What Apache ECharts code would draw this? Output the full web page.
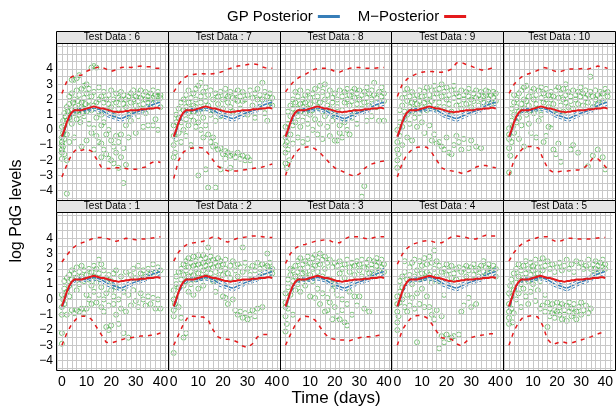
<!DOCTYPE html>
<html><head><meta charset="utf-8">
<script src="https://cdn.jsdelivr.net/npm/echarts@6/dist/echarts.min.js"></script>
<style>html,body{margin:0;padding:0;background:#fff}#c{width:616px;height:408px}</style>
</head><body><div id="c"></div>
<script>
const days = [0,1,2,3,4,5,6,7,8,9,10,11,12,13,14,15,16,17,18,19,20,21,22,23,24,25,26,27,28,29,30,31,32,33,34,35,36,37,38,39,40];
const bandDays = [0,2,4,6,8,10,12,14,16,18,20,22,24,26,28,30,32,34,36,38,40];
const xTicks = [0,10,20,30,40];
const yTicks = [-4,-3,-2,-1,0,1,2,3,4];

const redMean = [-0.45,0.0,0.5,0.9,1.15,1.3,1.3,1.3,1.3,1.35,1.4,1.45,1.5,1.55,1.5,1.45,1.4,1.4,1.35,1.3,1.25,1.2,1.2,1.15,1.2,1.2,1.25,1.25,1.3,1.3,1.3,1.3,1.35,1.35,1.35,1.4,1.4,1.4,1.45,1.45,1.4];
const blueMean = [-0.55,-0.05,0.45,0.9,1.1,1.25,1.3,1.3,1.3,1.3,1.3,1.35,1.4,1.45,1.4,1.35,1.3,1.2,1.1,1.0,0.95,0.9,0.85,0.78,0.75,0.8,0.88,0.95,1.02,1.1,1.15,1.2,1.25,1.3,1.4,1.5,1.6,1.67,1.72,1.78,1.82];
const blueUpper = [-0.45,0.55,1.2,1.4,1.4,1.42,1.52,1.55,1.45,1.3,1.12,1.02,0.95,1.05,1.2,1.3,1.4,1.6,1.8,1.92,2.02];
const blueLower = [-0.65,0.35,1.0,1.2,1.2,1.18,1.28,1.25,1.15,0.9,0.78,0.68,0.55,0.7,0.85,1.0,1.1,1.2,1.4,1.52,1.62];

const redUp6 = [2.4,3.2,3.5,3.6,3.6,3.85,4.0,4.1,4.15,4.0,3.85,3.95,4.1,4.15,4.1,4.15,4.2,4.15,4.15,4.05,4.05];
const redLo6 = [-3.1,-2.3,-1.6,-1.25,-1.35,-1.25,-1.4,-1.9,-2.45,-2.55,-2.55,-2.5,-2.5,-2.55,-2.6,-2.6,-2.5,-2.45,-2.2,-2.05,-2.15];
const redUp7 = [2.5,3.0,3.4,3.6,3.65,3.7,3.7,3.65,3.7,3.75,3.85,4.0,4.1,4.2,4.25,4.3,4.35,4.3,4.15,4.05,4.05];
const redLo7 = [-3.2,-2.0,-1.45,-1.25,-1.2,-1.15,-1.2,-1.55,-2.0,-2.4,-2.6,-2.7,-2.7,-2.7,-2.65,-2.6,-2.55,-2.5,-2.45,-2.35,-2.25];
const redUp8 = [2.5,2.95,3.3,3.5,3.65,3.85,4.0,4.05,4.05,4.0,3.85,3.8,3.95,4.05,4.1,4.1,4.05,4.05,4.05,4.1,4.1];
const redLo8 = [-3.0,-2.1,-1.5,-1.2,-1.15,-1.1,-1.25,-1.5,-1.85,-2.2,-2.5,-2.65,-2.8,-2.95,-3.05,-2.9,-2.55,-2.3,-2.2,-2.1,-2.05];
const redUp9 = [2.2,3.0,3.35,3.55,3.7,3.8,3.85,3.85,3.8,3.8,3.85,4.0,4.4,4.45,4.3,4.2,4.05,3.95,3.95,4.05,4.1];
const redLo9 = [-3.1,-2.2,-1.6,-1.3,-1.15,-1.1,-1.15,-1.5,-2.0,-2.5,-2.65,-2.7,-2.75,-2.85,-2.8,-2.65,-2.45,-2.35,-2.35,-2.45,-2.5];
const redUp10 = [2.4,3.0,3.35,3.6,3.7,3.8,3.95,4.1,4.05,3.9,3.8,3.9,4.0,4.0,4.0,4.05,4.0,4.1,4.2,4.15,4.05];
const redLo10 = [-3.0,-2.0,-1.5,-1.15,-1.1,-1.1,-1.2,-2.0,-2.6,-2.8,-2.75,-2.7,-2.7,-2.65,-2.65,-2.55,-2.3,-1.85,-1.9,-2.2,-2.6];
const redUp1 = [2.45,2.9,3.3,3.55,3.7,3.8,3.95,4.05,4.05,4.0,3.9,3.8,3.9,4.0,3.95,3.9,3.95,3.95,4.0,4.05,4.1];
const redLo1 = [-3.0,-2.2,-1.6,-1.25,-1.1,-1.1,-1.3,-1.8,-2.3,-2.8,-2.85,-2.75,-2.65,-2.55,-2.5,-2.45,-2.4,-2.4,-2.35,-2.3,-2.2];
const redUp2 = [2.5,3.1,3.45,3.65,3.7,3.75,3.8,3.95,4.1,4.05,3.85,3.75,3.9,4.0,4.05,4.1,4.15,4.15,4.1,4.05,4.05];
const redLo2 = [-3.0,-2.3,-1.6,-1.1,-1.1,-1.15,-1.15,-1.35,-2.0,-2.45,-2.6,-2.6,-2.65,-2.8,-3.05,-3.15,-2.9,-2.45,-2.3,-2.3,-2.3];
const redUp3 = [2.35,3.0,3.35,3.55,3.6,3.7,3.8,3.85,3.9,3.85,3.7,3.7,3.95,4.1,4.1,4.1,4.0,3.95,4.05,4.1,4.1];
const redLo3 = [-3.0,-2.3,-1.65,-1.25,-1.1,-1.15,-1.35,-1.8,-2.25,-2.55,-2.6,-2.65,-2.65,-2.7,-2.6,-2.5,-2.45,-2.45,-2.4,-2.35,-2.35];
const redUp4 = [2.3,2.95,3.35,3.6,3.7,3.8,3.85,3.8,3.7,3.7,3.9,4.1,4.15,4.1,4.05,3.95,3.95,4.1,4.2,4.15,4.15];
const redLo4 = [-3.0,-2.0,-1.5,-1.15,-1.05,-1.05,-1.2,-1.6,-2.1,-2.5,-2.55,-2.6,-2.9,-3.05,-2.75,-2.5,-2.4,-2.35,-2.3,-2.25,-2.25];
const redUp5 = [2.5,3.05,3.45,3.7,3.85,3.95,4.05,4.1,4.1,3.9,3.75,3.85,4.0,4.0,3.95,3.95,3.95,3.95,4.0,4.05,4.05];
const redLo5 = [-3.0,-2.1,-1.5,-1.15,-1.1,-1.05,-1.15,-1.7,-2.6,-2.95,-2.85,-2.75,-2.85,-2.85,-2.75,-2.65,-2.55,-2.45,-2.3,-2.2,-2.15];

const pts6 = [[0,-0.5],[0,-0.8],[0,-1.0],[0,-1.3],[0,-1.5],[0,-1.9],[0,0.2],[0.5,-0.2],[0.5,-1.1],[0.5,0.6],[1,-0.6],[1,0.3],[1,-1.6],[1,1.1],[1.5,0.9],[2,-4.2],[2,0.6],[2,1.5],[2,-0.3],[2,-2.0],[2.5,1.2],[3,1.7],[3,0.8],[3,2.2],[3,-0.8],[3.5,1.0],[4,1.3],[4,2.4],[4,3.3],[4,0.4],[4.5,1.8],[5,3.3],[5,1.1],[5,2.0],[5,-0.5],[5.5,1.5],[6,3.4],[6,1.2],[6,2.6],[6,0.7],[6.5,1.9],[7,1.3],[7,1.0],[7,2.3],[7,3.6],[7.5,0.5],[8,1.5],[8,2.7],[8,1.8],[8,-1.1],[8.5,1.1],[9,2.1],[9,1.4],[9,0.9],[9,2.9],[9.5,1.7],[10,2.4],[10,1.2],[10,-0.7],[10,3.0],[11,1.9],[11,1.5],[11,0.4],[11,2.7],[12,4.1],[12,2.2],[12,1.3],[12,-0.2],[13,4.2],[13,1.6],[13,2.5],[13,0.1],[13,-1.3],[14,4.1],[14,1.8],[14,-0.4],[14,0.8],[15,2.0],[15,-0.8],[15,1.2],[15,2.8],[16,-0.9],[16,0.3],[16,2.2],[16,1.0],[16,-1.8],[17,-1.3],[17,1.8],[17,0.5],[17,2.5],[18,-1.6],[18,-0.3],[18,2.0],[18,1.3],[19,-1.9],[19,0.0],[19,1.7],[19,2.3],[20,-2.0],[20,-0.7],[20,1.5],[20,2.6],[21,-1.1],[21,2.0],[21,1.0],[21,-2.2],[22,-0.4],[22,1.8],[22,2.4],[22,-1.5],[23,-0.8],[23,2.1],[23,-2.5],[23,1.4],[24,-0.3],[24,2.0],[24,-1.8],[24,2.5],[25,-3.5],[25,-1.2],[25,1.7],[25,2.3],[26,0.3],[26,2.0],[26,-2.3],[26,1.5],[27,2.2],[27,-0.5],[27,1.0],[28,2.4],[28,1.8],[28,0.6],[29,2.0],[29,2.6],[29,1.3],[30,2.2],[30,1.6],[30,-0.2],[31,2.4],[31,1.9],[31,0.9],[32,2.1],[32,2.6],[32,1.4],[33,2.3],[33,1.7],[33,0.2],[34,2.0],[34,2.5],[34,1.1],[35,2.2],[35,1.8],[35,0.3],[36,2.4],[36,1.5],[36,2.0],[37,2.1],[37,2.6],[37,0.3],[38,2.3],[38,1.9],[38,0.7],[39,2.2],[39,2.5],[39,0.0],[40,2.1],[40,2.3],[40,1.5]];
const pts7 = [[0,-1.0],[0,-1.8],[0,-0.4],[0,0.3],[0.5,-1.5],[1,0.5],[1,-0.6],[1,1.0],[2,1.4],[2,-0.2],[2,0.8],[3,1.8],[3,0.5],[3,-0.8],[4,1.3],[4,2.0],[4,0.0],[5,1.5],[5,0.7],[5,2.3],[5,-0.4],[6,1.1],[6,1.8],[6,0.3],[6,2.6],[7,1.4],[7,0.9],[7,2.1],[7,-1.0],[8,1.6],[8,0.6],[8,2.4],[8,1.2],[9,2.0],[9,0.2],[9,1.5],[9,2.7],[10,2.9],[10,1.1],[10,-3.0],[10,0.5],[11,1.8],[11,2.2],[11,0.0],[11,3.1],[12,1.4],[12,2.5],[12,-0.5],[12,0.8],[13,1.9],[13,2.8],[13,-2.6],[13,0.3],[14,1.6],[14,-0.3],[14,2.3],[14,-3.8],[15,1.0],[15,-0.8],[15,2.6],[16,2.0],[16,-0.5],[16,1.3],[16,-1.1],[17,2.4],[17,-1.0],[17,0.6],[17,-3.8],[18,2.2],[18,-1.3],[18,1.7],[19,2.5],[19,-1.2],[19,-2.6],[19,0.9],[20,2.0],[20,-1.6],[20,1.4],[21,2.3],[21,-1.9],[21,-1.4],[21,2.7],[22,1.8],[22,-1.5],[22,2.2],[23,-1.7],[23,2.5],[23,-2.5],[23,1.5],[24,2.1],[24,-1.6],[24,1.2],[25,2.4],[25,-1.8],[25,2.0],[26,-1.5],[26,1.9],[26,2.6],[27,-1.9],[27,2.2],[27,1.4],[28,-1.7],[28,2.5],[28,1.9],[29,-2.0],[29,2.0],[30,-1.8],[30,2.3],[30,1.0],[31,2.6],[31,-2.0],[32,2.1],[32,1.6],[33,2.4],[33,0.8],[34,2.0],[34,2.7],[35,2.3],[35,1.5],[36,3.1],[36,2.0],[37,2.5],[37,1.1],[38,0.6],[38,2.2],[39,2.4],[39,1.8],[40,2.1],[40,1.6]];
const pts8 = [[0,-1.5],[0,-2.2],[0,-0.5],[0,-1.0],[0,0.2],[0.5,-2.5],[0.5,-0.8],[1,0.4],[1,-1.3],[1,1.2],[1.5,-2.0],[2,0.9],[2,-0.3],[2,1.6],[3,1.4],[3,0.3],[3,2.0],[3,-0.9],[4,1.1],[4,1.8],[4,2.5],[4,0.5],[5,-0.5],[5,1.4],[5,2.2],[5,0.9],[6,1.7],[6,2.6],[6,0.2],[6,1.2],[7,2.0],[7,1.5],[7,-0.8],[7,0.6],[8,2.3],[8,1.1],[8,1.8],[9,-0.6],[9,1.4],[9,2.5],[9,0.4],[10,2.1],[10,1.7],[10,1.0],[11,2.4],[11,1.3],[11,0.0],[12,2.7],[12,1.9],[12,0.7],[13,-0.3],[13,2.2],[13,1.5],[14,2.9],[14,1.8],[14,0.4],[15,2.5],[15,1.2],[15,-0.6],[16,3.0],[16,2.0],[16,0.9],[17,2.3],[17,1.6],[17,0.2],[18,2.6],[18,1.4],[18,-0.4],[19,2.1],[19,1.8],[19,0.6],[20,2.4],[20,1.0],[20,-0.7],[21,2.0],[21,-0.7],[21,1.5],[22,2.6],[22,0.3],[22,-0.2],[23,2.2],[23,1.3],[23,-0.5],[24,2.5],[24,1.8],[24,0.5],[25,2.0],[25,0.0],[25,2.7],[26,2.3],[26,1.6],[26,-0.3],[27,2.5],[27,1.9],[27,0.8],[28,2.1],[28,2.7],[28,1.2],[29,2.4],[29,1.7],[29,0.4],[30,2.6],[30,2.0],[31,2.3],[31,-4.4],[31,1.4],[32,-3.7],[32,2.5],[32,1.8],[33,2.1],[33,2.8],[33,0.6],[34,2.4],[34,1.6],[35,2.6],[35,2.0],[35,0.9],[36,3.1],[36,2.3],[37,2.1],[37,1.5],[38,2.5],[38,0.6],[39,2.2],[39,2.8],[40,2.4],[40,1.9],[40,0.6]];
const pts9 = [[0,-1.3],[0,-2.0],[0,-0.8],[0,-2.5],[0,0.0],[0.5,-1.6],[1,0.5],[1,-0.4],[1,1.3],[2,1.6],[2,0.2],[2,2.1],[2,-1.0],[3,1.2],[3,2.4],[3,0.7],[4,1.9],[4,1.0],[4,2.7],[4,-0.5],[5,1.5],[5,2.2],[5,0.4],[6,1.8],[6,1.2],[6,2.5],[6,-0.7],[7,2.0],[7,1.4],[7,0.8],[8,2.3],[8,1.7],[8,0.2],[9,1.9],[9,2.6],[9,1.1],[10,2.2],[10,1.5],[10,0.5],[11,2.5],[11,1.8],[11,-0.2],[12,2.0],[12,1.3],[12,2.8],[13,2.3],[13,0.3],[13,1.6],[14,-0.7],[14,2.6],[14,1.9],[15,2.9],[15,2.1],[15,-0.3],[16,2.4],[16,1.4],[16,-0.9],[17,-0.8],[17,2.7],[17,1.8],[18,2.2],[18,3.0],[18,-1.1],[19,-1.3],[19,2.5],[19,1.5],[20,2.0],[20,2.8],[20,-0.5],[21,-1.5],[21,2.3],[21,1.7],[22,-1.6],[22,2.6],[22,1.2],[23,-1.0],[23,2.1],[23,2.9],[24,2.4],[24,-0.4],[24,1.6],[25,-0.8],[25,2.2],[25,1.9],[26,2.6],[26,-1.3],[26,1.4],[27,2.3],[27,2.0],[27,-0.6],[28,2.5],[28,1.7],[29,-1.2],[29,2.2],[29,2.7],[30,2.0],[30,1.5],[30,-0.7],[31,2.4],[31,1.9],[32,2.6],[32,2.1],[32,-1.1],[33,2.3],[33,1.6],[34,-1.2],[34,2.5],[34,2.0],[35,2.2],[35,1.8],[36,2.6],[36,2.3],[37,2.0],[37,2.5],[38,2.3],[38,1.7],[39,2.5],[39,2.1],[40,2.4],[40,1.9]];
const pts10 = [[0,-0.6],[0,-1.2],[0,-2.8],[0,0.1],[0,-0.3],[0.5,-1.7],[1,0.6],[1,-0.8],[1,1.4],[1.5,0.2],[2,1.8],[2,1.0],[2,-0.2],[2,2.3],[3,1.5],[3,0.5],[3,2.0],[4,2.4],[4,1.2],[4,0.8],[4,-0.6],[5,1.7],[5,2.6],[5,0.3],[6,2.0],[6,1.4],[6,2.8],[6,-1.1],[7,2.9],[7,1.9],[7,1.0],[8,2.2],[8,1.6],[8,0.4],[9,-0.2],[9,2.5],[9,1.3],[10,2.0],[10,2.7],[10,1.1],[11,-0.5],[11,2.3],[11,1.7],[12,2.6],[12,1.4],[12,0.6],[13,2.1],[13,2.8],[13,1.0],[14,-0.8],[14,2.4],[14,1.8],[15,2.7],[15,2.0],[15,-0.4],[16,2.3],[16,1.5],[16,0.2],[17,2.5],[17,2.0],[17,0.1],[18,-1.3],[18,2.2],[18,1.7],[19,-1.6],[19,2.6],[19,1.3],[20,2.1],[20,2.8],[20,-0.9],[21,-2.1],[21,2.4],[21,1.6],[22,2.0],[22,2.7],[22,1.2],[23,3.0],[23,2.3],[23,1.8],[24,2.5],[24,1.5],[25,-1.3],[25,2.2],[25,1.9],[26,2.6],[26,1.4],[26,-1.0],[27,2.3],[27,2.0],[28,-1.5],[28,2.5],[28,1.7],[29,2.2],[29,2.8],[30,2.4],[30,1.6],[31,2.1],[31,2.6],[32,-2.4],[32,2.3],[32,1.8],[33,3.5],[33,2.5],[34,-1.7],[34,2.2],[34,1.5],[35,2.6],[35,2.0],[36,-1.3],[36,2.3],[36,1.7],[37,2.5],[37,2.1],[38,-1.8],[38,2.4],[38,1.9],[39,2.7],[39,-2.6],[40,2.2],[40,2.5]];
const pts1 = [[0,-0.5],[0,-1.0],[0,-2.2],[0,-2.9],[0,0.3],[0.5,0.0],[1,0.7],[1,-0.3],[1,1.2],[2,0.5],[2,1.4],[2,-1.0],[3,1.6],[3,0.9],[3,0.2],[4,1.3],[4,1.9],[4,-0.7],[5,1.1],[5,1.7],[5,-0.9],[6,2.1],[6,1.4],[6,0.6],[6,-0.7],[7,1.8],[7,1.0],[7,-0.8],[8,2.2],[8,1.5],[8,-0.6],[9,1.2],[9,1.9],[9,-0.9],[10,1.6],[10,0.3],[10,-0.6],[11,2.0],[11,1.3],[11,0.0],[12,1.8],[12,-0.3],[12,0.9],[13,1.5],[13,2.2],[13,0.5],[14,2.0],[14,-0.2],[14,1.1],[15,2.6],[15,0.3],[15,1.7],[16,2.3],[16,-0.5],[16,0.8],[17,1.9],[17,0.0],[17,-0.8],[18,1.4],[18,-1.8],[18,0.4],[19,-2.0],[19,-0.4],[19,1.6],[20,-1.7],[20,0.6],[20,1.2],[21,-0.3],[21,1.7],[21,0.2],[22,-1.0],[22,0.8],[22,1.9],[23,-1.6],[23,0.0],[24,1.5],[24,-0.6],[25,-2.2],[25,0.5],[26,1.8],[26,-0.8],[27,-2.5],[27,0.3],[28,1.6],[28,-0.4],[29,2.0],[29,0.6],[30,-0.1],[30,1.4],[31,2.2],[31,-0.5],[32,1.7],[32,0.4],[33,0.0],[33,1.9],[34,-0.4],[34,1.5],[35,0.2],[35,2.0],[36,-0.3],[36,1.7],[37,2.3],[37,0.1],[38,1.8],[38,-0.6],[39,2.1],[39,0.0],[40,-0.6],[40,1.9]];
const pts2 = [[0,-0.7],[0,-1.1],[0,-3.5],[0,0.0],[0,0.6],[0.5,-0.3],[1,1.0],[1,1.5],[1,0.3],[2,1.8],[2,0.8],[2,-0.5],[3,2.0],[3,1.3],[3,-1.2],[4,1.6],[4,2.3],[4,-2.5],[4,0.9],[5,-2.2],[5,1.9],[5,2.5],[5,1.2],[6,2.1],[6,1.5],[6,2.7],[6,0.5],[7,1.8],[7,2.4],[7,1.0],[8,2.2],[8,1.6],[8,2.8],[8,0.3],[9,2.0],[9,2.5],[9,1.3],[10,2.3],[10,1.7],[10,2.9],[10,0.7],[11,2.1],[11,2.6],[11,1.4],[12,2.4],[12,1.9],[12,2.9],[12,0.9],[13,2.2],[13,2.7],[13,1.5],[14,3.4],[14,2.0],[14,2.5],[15,2.3],[15,1.7],[15,2.8],[16,2.1],[16,2.6],[16,1.2],[17,2.4],[17,1.8],[17,0.5],[18,2.2],[18,2.7],[18,1.4],[19,1.9],[19,2.5],[20,2.3],[20,1.6],[20,0.2],[21,0.1],[21,2.0],[21,2.6],[22,1.7],[22,-0.3],[23,2.2],[23,1.4],[24,2.5],[24,0.0],[25,1.9],[25,-0.7],[26,2.3],[26,-1.0],[26,1.5],[27,-0.8],[27,2.1],[28,3.4],[28,-1.2],[28,1.8],[29,-0.9],[29,2.4],[30,-1.3],[30,2.0],[31,-1.0],[31,1.6],[32,2.2],[32,-0.7],[33,-1.1],[33,1.9],[34,2.4],[34,-0.6],[35,2.0],[35,1.5],[36,-0.5],[36,2.3],[37,1.8],[37,2.1],[38,3.0],[38,2.2],[39,1.9],[39,2.4],[40,2.0],[40,1.7]];
const pts3 = [[0,-0.5],[0,-1.1],[0,-2.1],[0,-0.2],[0,0.4],[0.5,-1.6],[1,0.8],[1,-0.6],[1,1.3],[2,1.6],[2,0.3],[2,2.0],[3,1.2],[3,1.9],[3,-1.0],[4,2.2],[4,1.5],[4,0.6],[5,1.8],[5,2.5],[5,1.0],[6,2.0],[6,1.4],[6,2.7],[6,0.5],[7,1.7],[7,2.3],[7,1.1],[8,2.5],[8,1.8],[8,0.9],[9,2.1],[9,2.8],[9,1.4],[10,2.4],[10,1.6],[10,0.2],[11,2.0],[11,2.7],[11,1.2],[12,2.9],[12,2.2],[12,0.1],[13,2.5],[13,1.8],[13,0.7],[14,3.0],[14,2.3],[14,-0.3],[15,2.6],[15,1.5],[15,0.4],[16,2.8],[16,2.0],[16,-0.8],[17,2.4],[17,-0.7],[17,0.1],[18,2.6],[18,1.3],[18,-0.2],[19,2.1],[19,-1.3],[19,0.6],[20,2.4],[20,-0.5],[20,1.0],[21,2.2],[21,-1.1],[21,0.3],[22,2.5],[22,-1.3],[22,1.7],[23,2.0],[23,-0.7],[23,0.0],[24,2.3],[24,-1.5],[24,1.4],[25,2.6],[25,-1.7],[25,-0.3],[26,2.1],[26,0.5],[26,1.8],[27,2.4],[27,-1.0],[28,2.2],[28,0.2],[28,1.6],[29,2.5],[29,-0.4],[30,0.2],[30,2.3],[30,1.9],[31,2.6],[31,1.5],[32,2.1],[32,-0.6],[33,2.4],[33,2.0],[34,-0.8],[34,2.6],[34,1.7],[35,2.3],[35,2.0],[36,2.5],[36,1.6],[37,2.2],[37,2.7],[38,2.4],[38,1.9],[39,2.6],[39,2.1],[40,2.3],[40,1.8]];
const pts4 = [[0,-0.3],[0,-0.8],[0,-1.5],[0,-2.0],[0,0.2],[0.5,-1.1],[1,0.5],[1,-0.2],[1,1.2],[2,1.5],[2,0.0],[2,0.8],[3,1.8],[3,-0.5],[3,2.5],[4,1.3],[4,0.3],[4,-0.8],[5,2.1],[5,1.6],[5,-0.4],[6,2.4],[6,1.0],[6,0.1],[7,2.6],[7,1.5],[7,-0.6],[8,1.9],[8,-2.8],[8,0.4],[9,2.5],[9,1.3],[9,-0.3],[10,2.2],[10,1.7],[10,0.7],[11,2.7],[11,1.4],[11,-0.5],[12,2.3],[12,1.8],[12,0.2],[13,2.8],[13,1.6],[13,-0.5],[14,2.4],[14,1.1],[14,-1.0],[15,3.2],[15,2.0],[15,-1.3],[16,2.5],[16,1.5],[16,-0.7],[17,-3.2],[17,2.2],[17,1.2],[18,-2.4],[18,1.8],[18,-1.1],[19,-2.8],[19,2.0],[19,0.3],[20,-2.3],[20,1.6],[20,2.3],[21,-2.6],[21,1.9],[22,-2.5],[22,2.2],[22,1.4],[23,-2.4],[23,1.7],[24,2.0],[24,1.3],[25,-2.3],[25,2.1],[26,1.8],[26,-0.8],[27,2.0],[27,-0.4],[28,2.2],[28,1.5],[29,0.1],[29,1.9],[30,-0.5],[30,2.1],[31,1.6],[31,2.3],[32,-0.3],[32,1.9],[33,2.0],[33,1.5],[34,2.2],[35,2.5],[35,1.8],[36,2.1],[36,1.6],[37,2.0],[37,2.3],[38,1.9],[39,2.2],[40,2.0],[40,1.5]];
const pts5 = [[0,-0.3],[0,-0.8],[0,-1.6],[0,0.4],[0,-1.2],[0.5,0.9],[1,-0.6],[1,1.3],[1,0.2],[1.5,-1.5],[2,1.7],[2,0.6],[2,-0.9],[3,2.0],[3,1.1],[3,0.0],[4,1.5],[4,2.3],[4,0.4],[5,1.9],[5,1.0],[5,-0.5],[6,2.2],[6,1.4],[6,0.7],[7,1.7],[7,2.5],[7,0.2],[8,2.0],[8,1.2],[8,-0.3],[9,2.4],[9,1.6],[9,0.5],[10,1.9],[10,2.2],[10,1.0],[11,2.6],[11,1.4],[11,-0.1],[12,2.1],[12,1.7],[12,0.6],[13,2.4],[13,1.2],[13,-0.6],[14,1.9],[14,2.7],[14,-0.4],[15,2.2],[15,-0.8],[15,0.3],[16,2.5],[16,-1.8],[16,-0.2],[17,2.0],[17,-0.6],[17,-1.1],[18,2.3],[18,-0.3],[18,-0.9],[19,1.8],[19,-0.7],[19,-1.2],[20,2.1],[20,-0.2],[20,-0.8],[21,2.4],[21,-1.0],[21,-0.5],[22,1.9],[22,-0.3],[22,-1.3],[23,2.2],[23,-0.7],[23,-1.0],[24,2.6],[24,-0.4],[24,-1.4],[25,2.0],[25,-0.8],[25,-0.2],[26,2.3],[26,-1.1],[26,-0.6],[27,1.8],[27,-0.3],[27,-0.9],[28,2.5],[28,-0.8],[28,-1.3],[29,2.1],[29,-0.5],[30,2.4],[30,-1.0],[30,-0.2],[31,2.0],[31,-0.7],[32,2.2],[32,-0.4],[33,2.6],[33,-0.9],[34,2.0],[34,-0.6],[35,2.3],[35,1.6],[36,2.5],[36,2.0],[37,1.8],[37,2.2],[38,2.4],[38,1.9],[39,2.1],[39,2.6],[40,2.3],[40,2.0]];

const panelLabels = ['6','7','8','9','10','1','2','3','4','5'];
const panelPts = [pts6,pts7,pts8,pts9,pts10,pts1,pts2,pts3,pts4,pts5];
const panelUp = [redUp6,redUp7,redUp8,redUp9,redUp10,redUp1,redUp2,redUp3,redUp4,redUp5];
const panelLo = [redLo6,redLo7,redLo8,redLo9,redLo10,redLo1,redLo2,redLo3,redLo4,redLo5];

// layout
const FONT = 'Liberation Sans, Arial, sans-serif';
const colL = 56, colW = 111.8;
const rowT = [43, 212], rowH = [157.5, 158.5];
const YMIN = -4.65, YMAX = 5.72, XMIN = -2.4, XMAX = 43;
const gridY = [], gridX = [];
for (let v = -4.5; v <= 5.5; v += 0.5) gridY.push(v);
for (let v = -2; v <= 42; v += 2) gridX.push(v);
const RED = '#E41A1C', BLUE = '#377EB8', GREEN = '#4DAF4A';
const fmtY = v => (v < 0 ? '\u2212' + (-v) : String(v));

const grids = [], xAxes = [], yAxes = [], series = [], graphics = [];
for (let gi = 0; gi < 10; gi++) {
  const row = gi < 5 ? 0 : 1, col = gi % 5;
  const L = colL + col * colW, T = rowT[row], H = rowH[row];
  grids.push({left: L, top: T, width: colW, height: H, show: true, borderColor: '#000', borderWidth: 0, backgroundColor: '#fff'});
  xAxes.push({type: 'value', gridIndex: gi, min: XMIN, max: XMAX, position: 'bottom',
    axisLine: {show: false}, splitLine: {show: false},
    axisTick: {show: row === 1, customValues: xTicks, length: 5, lineStyle: {color: '#000'}},
    axisLabel: {show: row === 1, customValues: xTicks, fontSize: 14, color: '#000', fontFamily: FONT, margin: 5}});
  xAxes.push({type: 'value', gridIndex: gi, min: XMIN, max: XMAX, position: 'top', offset: 12,
    axisLine: {show: false}, splitLine: {show: false},
    axisTick: {show: row === 0, customValues: xTicks, length: 4, lineStyle: {color: '#000'}},
    axisLabel: {show: false}});
  yAxes.push({type: 'value', gridIndex: gi, min: YMIN, max: YMAX, position: 'left',
    axisLine: {show: false}, splitLine: {show: false},
    axisTick: {show: col === 0, customValues: yTicks, length: 5, lineStyle: {color: '#000'}},
    axisLabel: {show: col === 0, customValues: yTicks, formatter: fmtY, fontSize: 12, color: '#000', fontFamily: FONT, margin: 3}});
  yAxes.push({type: 'value', gridIndex: gi, min: YMIN, max: YMAX, position: 'right',
    axisLine: {show: false}, splitLine: {show: false},
    axisTick: {show: col === 4, customValues: yTicks, length: 4, lineStyle: {color: '#000'}},
    axisLabel: {show: false}});
  const xi = gi * 2, yi = gi * 2;
  series.push({type: 'scatter', xAxisIndex: xi, yAxisIndex: yi, data: [], silent: true, z: 1,
    markLine: {silent: true, symbol: 'none', animation: false, label: {show: false},
      lineStyle: {color: '#c8c8c8', width: 1, type: 'solid'},
      data: gridY.map(v => ({yAxis: v})).concat(gridX.map(v => ({xAxis: v})))}});
  series.push({type: 'scatter', xAxisIndex: xi, yAxisIndex: yi, data: panelPts[gi], symbol: 'circle', symbolSize: 5,
    itemStyle: {color: 'rgba(0,0,0,0)', borderColor: GREEN, borderWidth: 0.9, opacity: 0.8}, silent: true, z: 2});
  series.push({type: 'line', name: 'gp-up', xAxisIndex: xi, yAxisIndex: yi, data: bandDays.map((d, k) => [d, blueUpper[k]]),
    symbol: 'none', lineStyle: {color: BLUE, width: 1, type: [3, 2]}, silent: true, z: 3});
  series.push({type: 'line', name: 'gp-lo', xAxisIndex: xi, yAxisIndex: yi, data: bandDays.map((d, k) => [d, blueLower[k]]),
    symbol: 'none', lineStyle: {color: BLUE, width: 1, type: [3, 2]}, silent: true, z: 3});
  series.push({type: 'line', name: 'GP Posterior', color: BLUE, xAxisIndex: xi, yAxisIndex: yi, data: days.map((d, k) => [d, blueMean[k]]),
    symbol: 'none', itemStyle: {color: BLUE}, lineStyle: {color: BLUE, width: 1.5}, silent: true, z: 4});
  series.push({type: 'line', name: 'm-up', xAxisIndex: xi, yAxisIndex: yi, data: bandDays.map((d, k) => [d, panelUp[gi][k]]),
    symbol: 'none', lineStyle: {color: RED, width: 1.5, type: [4, 5]}, silent: true, z: 5});
  series.push({type: 'line', name: 'm-lo', xAxisIndex: xi, yAxisIndex: yi, data: bandDays.map((d, k) => [d, panelLo[gi][k]]),
    symbol: 'none', lineStyle: {color: RED, width: 1.5, type: [4, 5]}, silent: true, z: 5});
  series.push({type: 'line', name: 'M\u2212Posterior', color: RED, xAxisIndex: xi, yAxisIndex: yi, data: days.map((d, k) => [d, redMean[k]]),
    symbol: 'none', itemStyle: {color: RED}, lineStyle: {color: RED, width: 2}, silent: true, z: 6});
  // panel frame drawn on top so gridlines never break it
  graphics.push({type: 'rect', shape: {x: Math.round(L) + 0.5, y: T + 0.5, width: Math.round(L + colW) - Math.round(L), height: Math.round(H) - 1}, style: {fill: 'none', stroke: '#000', lineWidth: 1}, z: 20});
  graphics.push({type: 'rect', shape: {x: Math.round(L) + 0.5, y: T - 11.5, width: Math.round(L + colW) - Math.round(L), height: 12}, style: {fill: '#e5e5e5', stroke: '#000', lineWidth: 1}, z: 21});
  graphics.push({type: 'text', x: L + colW / 2, y: T - 5.5, style: {text: 'Test Data : ' + panelLabels[gi], font: '10px ' + FONT, fill: '#000', textAlign: 'center', textVerticalAlign: 'middle'}, z: 22});
}
graphics.push({type: 'text', x: 17, y: 211, rotation: Math.PI / 2, style: {text: 'log PdG levels', font: '16px ' + FONT, fill: '#000', textAlign: 'center', textVerticalAlign: 'middle'}});
graphics.push({type: 'text', x: 336, y: 398, style: {text: 'Time (days)', font: '17px ' + FONT, fill: '#000', textAlign: 'center', textVerticalAlign: 'middle'}});

const chart = echarts.init(document.getElementById('c'), null, {renderer: 'canvas', width: 616, height: 408});
chart.setOption({
  animation: false,
  backgroundColor: '#fff',
  legend: {top: 4, left: 222, align: 'right', itemGap: 18, itemWidth: 22, itemHeight: 3,
    textStyle: {fontSize: 15, fontFamily: FONT, color: '#000'},
    data: [{name: 'GP Posterior', icon: 'rect'}, {name: 'M\u2212Posterior', icon: 'rect'}]},
  grid: grids, xAxis: xAxes, yAxis: yAxes, series: series, graphic: graphics
});
</script></body></html>
